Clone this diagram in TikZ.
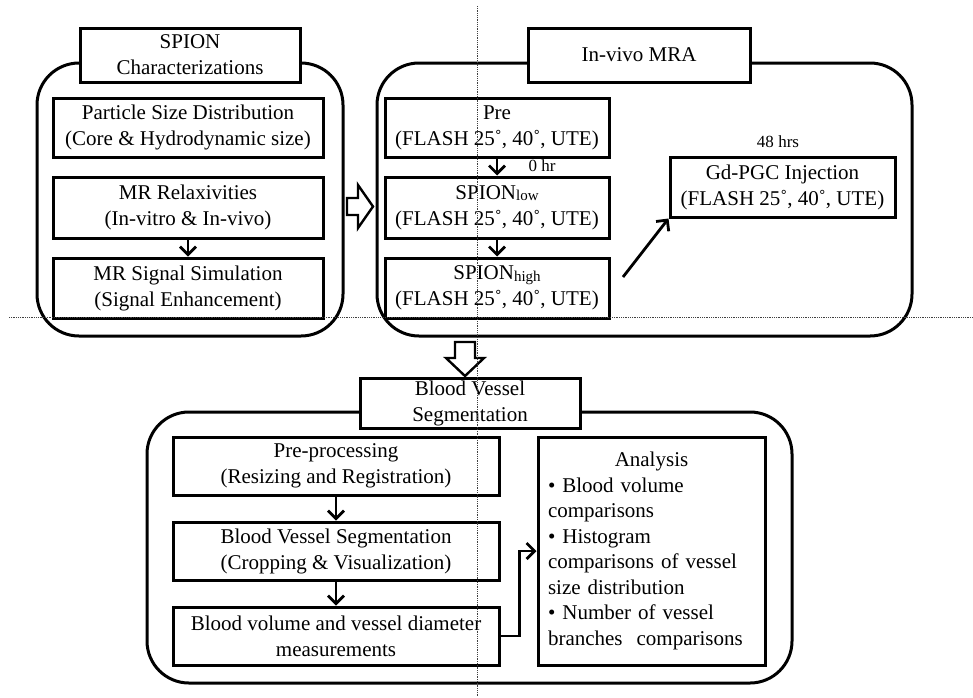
\documentclass[tikz,border=0pt]{standalone}
\usepackage{fontspec}
\setmainfont{Liberation Serif}
\usetikzlibrary{arrows.meta}

\newcommand{\lowidx}[1]{\raisebox{-1.5pt}{\fontsize{15}{15}\selectfont #1}}
\newcommand{\flashline}{(FLASH 25˚, 40˚, UTE)}

\tikzset{
  frame/.style={draw,line width=3pt,rounded corners=42pt,inner sep=0pt},
  titlebox/.style={draw,line width=3pt,fill=white,align=center,inner sep=0pt,
    font=\fontsize{21}{26}\selectfont},
  stepbox/.style={draw,line width=3pt,fill=white,align=center,inner sep=1pt,
    font=\fontsize{21}{26}\selectfont},
  timelabel/.style={font=\fontsize{17}{19}\selectfont},
  fatarrow/.style={draw,line width=2.4pt,fill=white,line join=miter},
  guide/.style={densely dotted,line width=0.8pt,black!75}
}

\begin{document}
\begin{tikzpicture}[x=1pt,y=-1pt,>={Straight Barb[length=8pt,width=16pt]},line width=2.8pt]
  \useasboundingbox (0,0) rectangle (973,697);

  % group frames
  \node[frame,minimum width=306pt,minimum height=273pt] (leftframe) at (190,199.5) {};
  \node[frame,minimum width=535pt,minimum height=273pt] (rightframe) at (644.5,199.5) {};
  \node[frame,minimum width=645pt,minimum height=271pt] (bottomframe) at (469.5,547.5) {};

  % titles
  \node[titlebox,minimum width=220pt,minimum height=54pt] (spiontitle) at (190,55) {SPION\\Characterizations};
  \node[titlebox,minimum width=222pt,minimum height=54pt] (mratitle) at (639,55) {In-vivo MRA};
  \node[titlebox,minimum width=220pt,minimum height=50pt] (bvstitle) at (470,403) {Blood Vessel\\Segmentation};

  % SPION characterizations
  \node[stepbox,minimum width=270pt,minimum height=59pt] (psd) at (188,127.5) {Particle Size Distribution\\(Core \& Hydrodynamic size)};
  \node[stepbox,minimum width=270pt,minimum height=61pt] (relax) at (188,207.5) {MR Relaxivities\\(In-vitro \& In-vivo)};
  \node[stepbox,minimum width=270pt,minimum height=60pt] (signal) at (188,288) {MR Signal Simulation\\(Signal Enhancement)};
  \draw[->] (relax) -- (signal);

  % in-vivo MRA
  \node[stepbox,minimum width=224pt,minimum height=59pt] (pre) at (497,127.5) {Pre\\\flashline};
  \node[stepbox,minimum width=224pt,minimum height=61pt] (low) at (497,207.5) {SPION\lowidx{low}\\\flashline};
  \node[stepbox,minimum width=224pt,minimum height=60pt] (high) at (497,288) {SPION\lowidx{high}\\\flashline};
  \node[stepbox,minimum width=225pt,minimum height=60pt] (gd) at (782.5,187) {Gd-PGC Injection\\\flashline};
  \node[timelabel] (zerohr) at (542,166) {0 hr};
  \node[timelabel] (fortyeight) at (778,142) {48 hrs};
  \coordinate (hs) at (623,277);
  \draw[->] (pre) -- (low);
  \draw[->] (low) -- (high);
  \draw[->] (hs) -- (gd.south west);

  % blood vessel segmentation
  \node[stepbox,minimum width=326pt,minimum height=58pt] (prep) at (336,466) {Pre-processing\\(Resizing and Registration)};
  \node[stepbox,minimum width=326pt,minimum height=58pt] (seg) at (336,551) {Blood Vessel Segmentation\\(Cropping \& Visualization)};
  \node[stepbox,minimum width=326pt,minimum height=58pt] (vol) at (336,636) {Blood volume and vessel diameter\\measurements};
  \node[stepbox,minimum width=227pt,minimum height=228pt,text width=207pt,align=left,
    font=\fontsize{21}{25.5}\selectfont] (ana) at (651.5,551)
    {\makebox[\linewidth]{Analysis}\\
     \textbullet{} Blood volume\\
     comparisons\\
     \textbullet{} Histogram\\
     comparisons of vessel\\
     size distribution\\
     \textbullet{} Number of vessel\\
     branches\ \ comparisons};
  \draw[->] (prep) -- (seg);
  \draw[->] (seg) -- (vol);
  \draw[->] (vol.east) -- ++(19,0) |- (ana.west);

  % hollow block arrows between groups
  \draw[fatarrow] (347,198) -- (358,198) -- (358,185) -- (373,206.5) -- (358,228)
    -- (358,215) -- (347,215) -- cycle;
  \draw[fatarrow] (455,342) -- (475,342) -- (475,358) -- (484,358) -- (465,376)
    -- (446,358) -- (455,358) -- cycle;

  % guide lines
  \draw[guide] (477,6) -- (477,697);
  \draw[guide] (9,317) -- (973,317);
\end{tikzpicture}
\end{document}
